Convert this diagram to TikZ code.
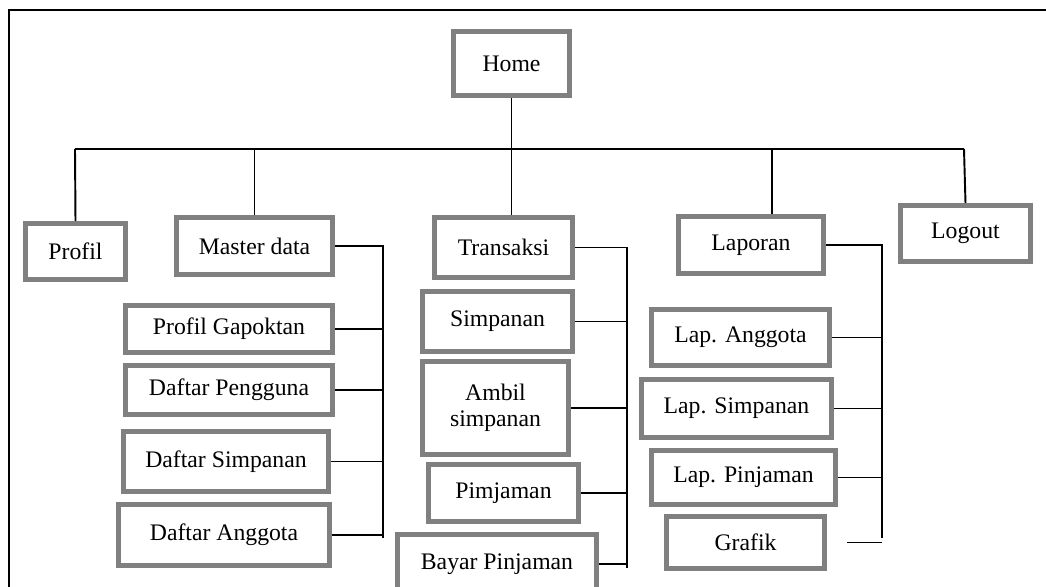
\documentclass[tikz,border=0pt]{standalone}
\usepackage{fontspec}
\setmainfont{Liberation Serif}
\usepackage{tikz}

\tikzset{
  menubox/.style 2 args={draw=gray, line width=2.85pt, fill=white,
    minimum width=#1*0.02cm, minimum height=#2*0.02cm, inner sep=0pt,
    align=center, font=\fontsize{13.5}{15}\selectfont},
  link/.style={line width=1.1pt}
}

\begin{document}
\begin{tikzpicture}[x=0.02cm, y=-0.02cm]
\useasboundingbox (0,0) rectangle (1046,587);
\clip (0,0) rectangle (1046,587);

% Frame
\draw[line width=0.9pt] (9,10) rectangle (1080,620);

% Top level
\node[menubox={116}{64}] (home) at (511.5,63.5) {Home};

% Second row
\node[menubox={100}{56}] (profil) at (75.5,251.5) {Profil};
\node[menubox={156}{57}] (master) at (254.5,246) {Master data};
\node[menubox={138}{60}] (trans) at (503.5,247.5) {Transaksi};
\node[menubox={145}{57}] (lapor) at (751,245) {Laporan};
\node[menubox={130}{56}] (logout) at (965.5,233.5) {Logout};

% Master data items
\node[menubox={207}{47}] (pg) at (229,329) {Profil Gapoktan};
\node[menubox={207}{49}] (dp) at (229,390) {Daftar Pengguna};
\node[menubox={205}{60}] (ds) at (226,461.5) {Daftar Simpanan};
\node[menubox={211}{61}] (da) at (224,535) {Daftar Anggota};

% Transaksi items
\node[menubox={150}{60}] (simp) at (497.5,321.5) {Simpanan};
\node[menubox={146}{93}] (ambil) at (495.5,408) {Ambil\\simpanan};
\node[menubox={150}{57}] (pimj) at (503.5,493) {Pimjaman};
\node[menubox={199}{59}] (bayar) at (497,564) {Bayar Pinjaman};

% Laporan items
\node[menubox={178}{56}] (lang) at (740.5,337.5) {Lap. Anggota};
\node[menubox={190}{58}] (lsimp) at (736.5,408.5) {Lap. Simpanan};
\node[menubox={184}{54}] (lpinj) at (743.5,477.5) {Lap. Pinjaman};
\node[menubox={158}{52}] (grafik) at (745.5,542.5) {Grafik};

% Bus points
\coordinate (hl) at (75,149);
\coordinate (hr) at (964,149);
\coordinate (lapdrop) at (772,149);
\coordinate (mbot) at (383,538);
\coordinate (tbot) at (627,568);
\coordinate (lbot) at (882,538);

% Top connectors
\draw[link] (home.south) -- (home.south |- trans.north);
\draw[link] (hl) -- (hr);
\draw[link] (hl) -- (profil.north);
\draw[link] (master.north) -- (master.north |- hl);
\draw[link] (lapdrop) -- (lapdrop |- lapor.north);
\draw[link] (hr) -- (logout.north);

% Master data branch
\draw[link] (master.east) -| (mbot);
\foreach \n in {pg,dp,ds,da}
  \draw[link] (\n.east) -- (\n.east -| mbot);

% Transaksi branch
\draw[link] (trans.east) -| (tbot);
\foreach \n in {simp,ambil,pimj,bayar}
  \draw[link] (\n.east) -- (\n.east -| tbot);

% Laporan branch
\draw[link] (lapor.east) -| (lbot);
\foreach \n in {lang,lsimp,lpinj}
  \draw[link] (\n.east) -- (\n.east -| lbot);
\draw[link, shorten <=20*0.02cm] (grafik.east) -- (grafik.east -| lbot);

\end{tikzpicture}
\end{document}
